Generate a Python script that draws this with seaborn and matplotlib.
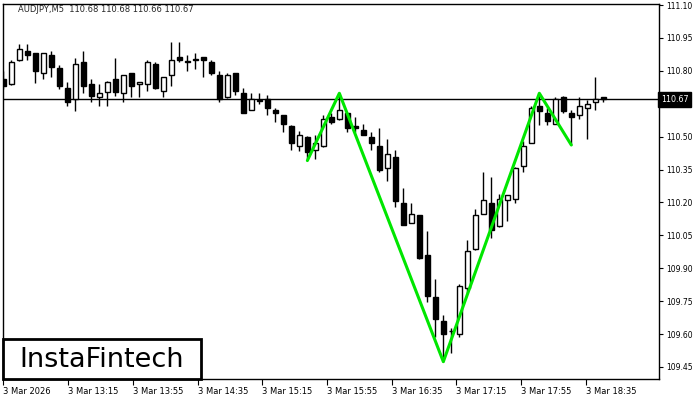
import numpy as np
import pandas as pd
import seaborn as sns
import matplotlib.pyplot as plt
from matplotlib.patches import Rectangle

# AUDJPY M5 candles (bar 0 = first visible bar)
opens = [110.765, 110.740, 110.849, 110.891, 110.880, 110.790, 110.873, 110.814, 110.721, 110.671,
         110.841, 110.740, 110.680, 110.706, 110.762, 110.699, 110.790, 110.740, 110.740, 110.830,
         110.709, 110.780, 110.862, 110.842, 110.849, 110.862, 110.841, 110.780, 110.679, 110.790,
         110.699, 110.623, 110.665, 110.674, 110.623, 110.599, 110.550, 110.456, 110.499, 110.441,
         110.456, 110.590, 110.580, 110.608, 110.550, 110.530, 110.500, 110.459, 110.358, 110.409,
         110.199, 110.108, 110.141, 109.959, 109.767, 109.659, 109.612, 109.599, 109.808, 109.990,
         110.149, 110.199, 110.091, 110.209, 110.217, 110.367, 110.471, 110.641, 110.608, 110.558,
         110.682, 110.608, 110.599, 110.630, 110.656, 110.680]
highs = [110.800, 110.850, 110.921, 110.921, 110.882, 110.882, 110.891, 110.826, 110.750, 110.860,
         110.891, 110.765, 110.740, 110.752, 110.860, 110.782, 110.792, 110.750, 110.850, 110.841,
         110.773, 110.932, 110.932, 110.871, 110.880, 110.863, 110.850, 110.799, 110.790, 110.792,
         110.721, 110.699, 110.699, 110.690, 110.633, 110.601, 110.552, 110.527, 110.501, 110.508,
         110.599, 110.608, 110.699, 110.610, 110.591, 110.558, 110.520, 110.540, 110.490, 110.440,
         110.267, 110.199, 110.143, 110.070, 109.849, 109.686, 109.626, 109.827, 110.027, 110.168,
         110.341, 110.318, 110.240, 110.234, 110.360, 110.482, 110.641, 110.699, 110.633, 110.682,
         110.686, 110.623, 110.682, 110.667, 110.773, 110.680]
lows = [110.718, 110.735, 110.845, 110.849, 110.747, 110.762, 110.770, 110.717, 110.638, 110.618,
        110.701, 110.656, 110.638, 110.638, 110.686, 110.656, 110.679, 110.679, 110.709, 110.718,
        110.679, 110.729, 110.841, 110.799, 110.810, 110.770, 110.780, 110.656, 110.677, 110.690,
        110.606, 110.621, 110.649, 110.599, 110.568, 110.520, 110.441, 110.436, 110.399, 110.399,
        110.454, 110.558, 110.578, 110.520, 110.520, 110.506, 110.440, 110.338, 110.297, 110.179,
        110.095, 110.106, 109.940, 109.747, 109.585, 109.474, 109.515, 109.585, 109.788, 109.982,
        110.147, 110.040, 110.089, 110.115, 110.197, 110.338, 110.469, 110.555, 110.555, 110.556,
        110.606, 110.462, 110.579, 110.488, 110.621, 110.660]
closes = [110.729, 110.841, 110.899, 110.871, 110.800, 110.880, 110.820, 110.729, 110.659, 110.830,
          110.729, 110.686, 110.699, 110.750, 110.706, 110.780, 110.729, 110.749, 110.841, 110.720,
          110.771, 110.850, 110.850, 110.840, 110.851, 110.850, 110.790, 110.673, 110.780, 110.709,
          110.608, 110.671, 110.663, 110.629, 110.608, 110.558, 110.471, 110.508, 110.429, 110.471,
          110.580, 110.568, 110.623, 110.540, 110.540, 110.508, 110.470, 110.349, 110.421, 110.206,
          110.097, 110.149, 109.949, 109.773, 109.667, 109.599, 109.614, 109.818, 109.977, 110.141,
          110.209, 110.076, 110.217, 110.232, 110.358, 110.458, 110.630, 110.618, 110.570, 110.671,
          110.618, 110.588, 110.640, 110.649, 110.671, 110.670]

# inverse head & shoulders outline (bar index, price)
pattern_bars = [38, 42, 55, 67, 71]
pattern_prices = [110.391, 110.698, 109.474, 110.698, 110.462]

time_labels = ["3 Mar 2026", "3 Mar 13:15", "3 Mar 13:55", "3 Mar 14:35", "3 Mar 15:15",
               "3 Mar 15:55", "3 Mar 16:35", "3 Mar 17:15", "3 Mar 17:55", "3 Mar 18:35"]
price_ticks = [109.45, 109.60, 109.75, 109.90, 110.05, 110.20, 110.35, 110.50, 110.65, 110.80, 110.95, 111.10]
last_price = 110.67
header = "AUDJPY,M5  110.68 110.68 110.66 110.67"

df = pd.DataFrame({"open": opens, "high": highs, "low": lows, "close": closes})
df["bar"] = np.arange(len(df))
df["up"] = df["close"] >= df["open"]

sns.set_style("white")
plt.rcParams['font.family'] = ['DejaVu Sans']

fig = plt.figure(figsize=(7, 4), dpi=100)
ax = fig.add_axes([0.0043, 0.0525, 0.9371, 0.9375])

# last price line behind everything
ax.axhline(last_price, color='black', lw=1, zorder=1)

# wicks + bodies
ax.vlines(df["bar"], df["low"], df["high"], color='black', lw=1, zorder=2)
body_lo = df[["open", "close"]].min(axis=1)
body_h = (df["open"] - df["close"]).abs().clip(lower=0.003)
ax.bar(df["bar"], body_h, bottom=body_lo, width=0.68,
       color=np.where(df["up"], 'white', 'black'), edgecolor='black', linewidth=1, zorder=3)

# pattern line
sns.lineplot(x=pattern_bars, y=pattern_prices, color='#00e600', lw=2.2, ax=ax, zorder=4)

ax.set_xlim(-0.05, 81.96)
ax.set_ylim(109.395, 111.105)

ax.yaxis.tick_right()
ax.set_yticks(price_ticks)
ax.set_yticklabels([f"{v:.2f}" for v in price_ticks])
ax.tick_params(axis='y', right=True, left=False, direction='out', length=3, width=0.8,
               pad=2, labelsize=5.5, colors='black')

# MT4 time scale drifts a little against the bar index
ax.set_xticks(np.arange(len(time_labels)) * 8.09)
ax.set_xticklabels(time_labels, ha='left')
ax.tick_params(axis='x', bottom=True, direction='out', length=4, width=0.8,
               pad=2, labelsize=6, colors='black')
ax.set_xlabel("")
ax.set_ylabel("")

for s in ax.spines.values():
    s.set_color('black')
    s.set_linewidth(1)
    s.set_visible(True)

# last price tag (sits over the 110.65 label, like in the terminal)
ax.text(1.003, last_price, "110.67", transform=ax.get_yaxis_transform(), ha='left', va='center',
        color='white', fontsize=5.8, clip_on=False, zorder=10,
        bbox=dict(boxstyle='square,pad=0.35', fc='black', ec='black'))

ax.text(0.023, 0.984, header, transform=ax.transAxes, ha='left', va='center', fontsize=6)

# logo box
ax.add_patch(Rectangle((0, 0), 0.302, 0.107, transform=ax.transAxes, fc='white', ec='black',
                       lw=2, zorder=6, clip_on=False))
ax.text(0.151, 0.05, "InstaFintech", transform=ax.transAxes, ha='center', va='center',
        fontsize=19.5, color='black', zorder=7)

plt.savefig("out.png", dpi=100)
